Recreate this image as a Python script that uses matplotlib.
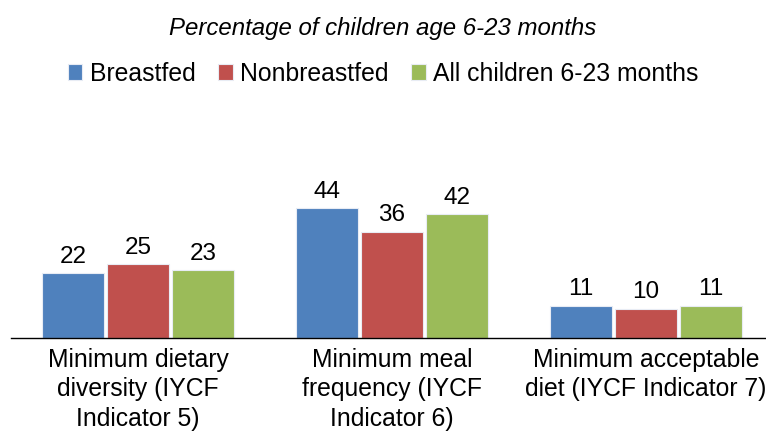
import matplotlib
matplotlib.use("Agg")
import matplotlib.pyplot as plt
import numpy as np

plt.rcParams['font.family'] = ['Liberation Sans', 'DejaVu Sans']

categories = ["Minimum dietary\ndiversity (IYCF\nIndicator 5)",
              "Minimum meal\nfrequency (IYCF\nIndicator 6)",
              "Minimum acceptable\ndiet (IYCF Indicator 7)"]
series_names = ["Breastfed", "Nonbreastfed", "All children 6-23 months"]
breastfed = [22, 44, 11]
nonbreastfed = [25, 36, 10]
all_children = [23, 42, 11]
colors = ["#4F81BD", "#C0504D", "#9BBB59"]
title = "Percentage of children age 6-23 months"

W, H = 766, 432
fig = plt.figure(figsize=(W / 100, H / 100), dpi=100)
ax = fig.add_axes([11 / W, (H - 338) / H, 755 / W, 236 / H])

x = np.arange(len(categories))
pitch = 0.256
bw = 0.244
for i, (vals, name, c) in enumerate(zip([breastfed, nonbreastfed, all_children], series_names, colors)):
    pos = x + (i - 1) * pitch
    ax.bar(pos, vals, bw, color=c, label=name, edgecolor="#E8ECF4", linewidth=0.8)
    for p, v in zip(pos, vals):
        ax.annotate(f"{v}", (p, v), xytext=(0, 4), textcoords="offset points",
                    ha="center", va="bottom", fontsize=17.5, color="#000000")

ax.set_xlim(-0.5, 2.5 - 7 / 254)
ax.set_ylim(0, 80)
ax.set_xticks(x)
ax.set_xticklabels(categories, fontsize=17.8, linespacing=1.3)
ax.tick_params(axis="x", length=0, pad=7)
ax.set_yticks([])
for s in ["top", "right", "left"]:
    ax.spines[s].set_visible(False)
ax.spines["bottom"].set_color("#000000")
ax.spines["bottom"].set_linewidth(1.0)

fig.text(0.5, 1 - 29 / H, title, ha="center", va="center", fontsize=17.3, style="italic")
fig.legend(loc="center", bbox_to_anchor=(0.5, 1 - 74 / H), ncol=3, frameon=False,
           fontsize=17.8, handlelength=0.6, handleheight=0.6, handletextpad=0.3,
           columnspacing=0.9)

fig.savefig("out.png", dpi=100)
